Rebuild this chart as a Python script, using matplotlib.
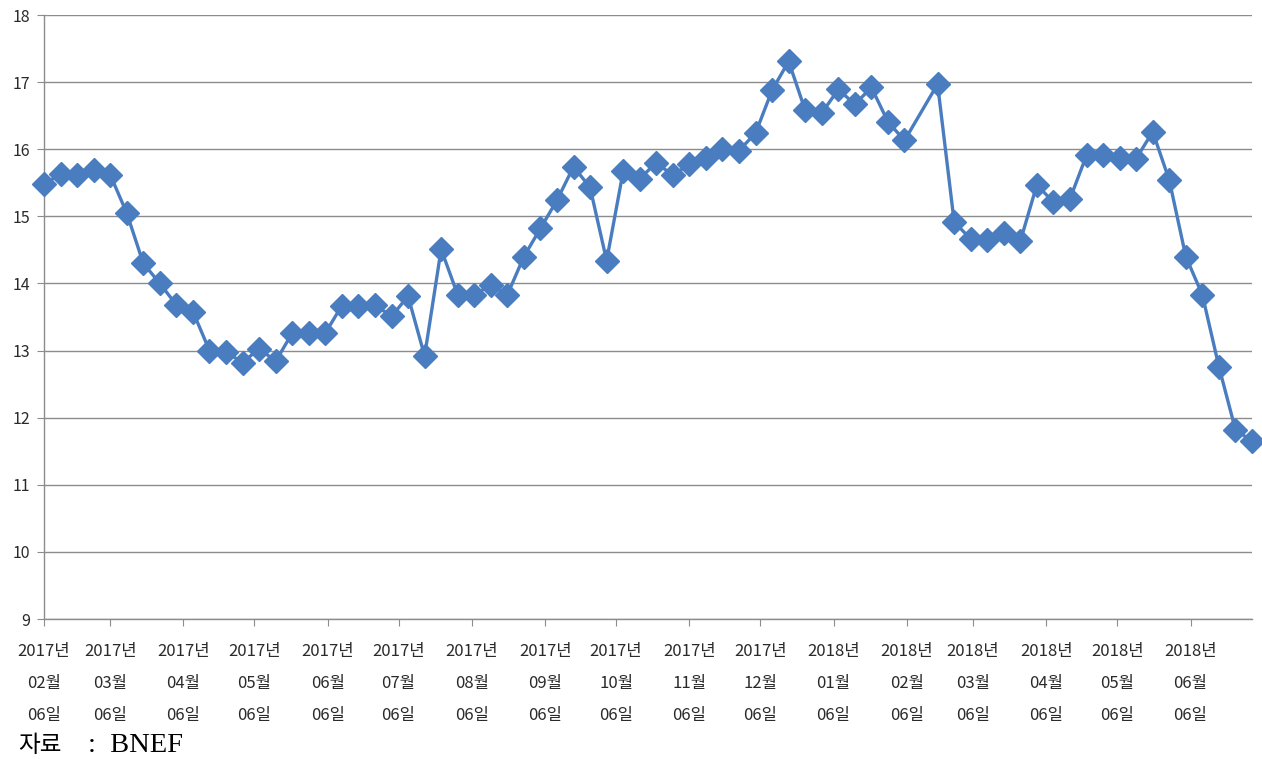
import numpy as np
import pandas as pd
import matplotlib
matplotlib.use('Agg')
import matplotlib.pyplot as plt

plt.rcParams['font.family'] = ['Noto Sans CJK KR', 'DejaVu Sans']

# weekly observations, the week of 2018-02-12 is missing
dates = pd.date_range('2017-02-06', '2018-07-02', freq='7D')
dates = dates[dates != pd.Timestamp('2018-02-12')]

values = [
    15.48, 15.63, 15.62, 15.69, 15.62, 15.05, 14.30, 14.00, 13.68, 13.58,
    13.00, 12.98, 12.82, 13.03, 12.84, 13.26, 13.26, 13.26, 13.67, 13.67,
    13.68, 13.51, 13.81, 12.92, 14.51, 13.83, 13.83, 13.98, 13.83, 14.40,
    14.82, 15.24, 15.74, 15.43, 14.34, 15.67, 15.56, 15.80, 15.61, 15.78,
    15.87, 16.00, 15.98, 16.24, 16.88, 17.31, 16.58, 16.54, 16.89, 16.67,
    16.92, 16.41, 16.13,
    16.97, 14.92, 14.66, 14.64, 14.75, 14.63, 15.47, 15.21, 15.26, 15.91,
    15.91, 15.87, 15.86, 16.26, 15.54, 14.40, 13.83, 12.76, 11.82, 11.65,
]

# monthly ticks on the 6th
tick_dates = pd.date_range('2017-02-01', '2018-06-01', freq='MS') + pd.Timedelta(days=5)
tick_labels = [d.strftime('%Y년\n%m월\n%d일') for d in tick_dates]

blue = '#4a7dbf'
grid = '#8c8c8c'

fig = plt.figure(figsize=(12.62, 7.59), dpi=100)
ax = fig.add_axes([44 / 1262, 1 - 619 / 759, (1252 - 44) / 1262, (619 - 15) / 759])

ax.plot(dates, values, color=blue, lw=2.4, marker='D', markersize=12.5,
        markerfacecolor=blue, markeredgecolor=blue, zorder=3, clip_on=False)

ax.set_xlim(dates[0], dates[-1])
ax.set_ylim(9, 18)
ax.set_yticks(range(9, 19))
ax.yaxis.grid(True, color=grid, lw=1.0)
ax.set_axisbelow(True)

ax.set_xticks(tick_dates)
ax.set_xticklabels(tick_labels, fontsize=12, linespacing=2.18, color='#2a2a2a')
ax.tick_params(axis='x', length=5, width=0.8, color=grid, pad=12)
ax.tick_params(axis='y', length=5, width=0.8, color=grid, labelsize=11.5,
               labelcolor='#2a2a2a', pad=5)

for side in ('top', 'right'):
    ax.spines[side].set_visible(False)
for side in ('left', 'bottom'):
    ax.spines[side].set_color(grid)
    ax.spines[side].set_linewidth(1.0)

# source note
fig.text(18 / 1262, 1 - 746 / 759, '자료', fontsize=17, va='center', ha='left')
fig.text(88 / 1262, 1 - 746 / 759, ':  BNEF', fontsize=20.5,
         family=['Liberation Serif', 'Noto Sans CJK KR'], va='center', ha='left')

fig.savefig('out.png', dpi=100)
